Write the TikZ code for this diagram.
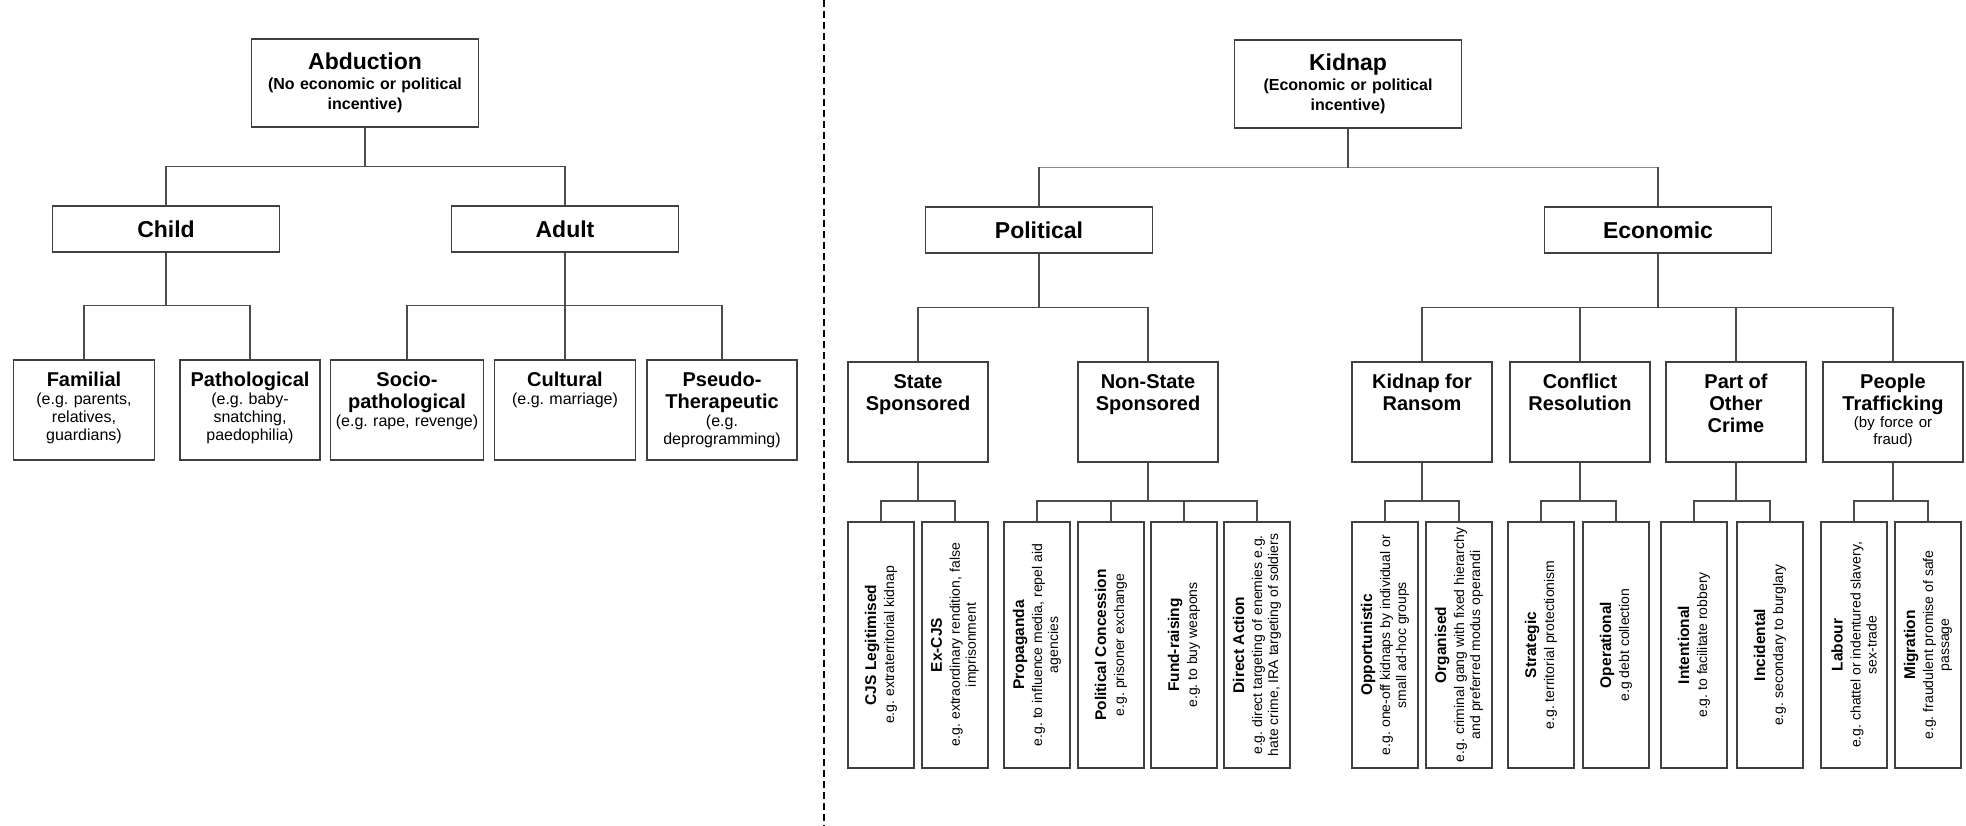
\documentclass[tikz,border=0pt]{standalone}
\usepackage{fontspec}
\setmainfont{Liberation Sans}
\newcommand{\cattitle}[1]{{\bfseries\fontsize{20}{22}\selectfont #1\par}}
\newcommand{\leaftitle}[1]{{\bfseries\fontsize{15.5}{16}\selectfont #1}}

\begin{document}
\frenchspacing
\begin{tikzpicture}[x=1pt,y=1pt,
    rootbox/.style={draw=black!75,line width=1.6pt,text width=223pt,align=center,minimum height=88pt,inner sep=2pt,font=\bfseries\fontsize{16}{20}\selectfont},
    midbox/.style={draw=black!75,line width=1.6pt,minimum width=227pt,minimum height=46pt,inner sep=0pt,font=\bfseries\fontsize{23}{26}\selectfont},
    catbox/.style={draw=black!75,line width=1.6pt,text width=#1,align=center,inner xsep=2pt,inner ysep=0pt,text height=27pt,text depth=73.5pt,font=\fontsize{16}{18}\selectfont},
    catbox/.default=136pt,
    leaf/.style={draw=black!75,line width=1.6pt,rotate=90,minimum width=246pt,minimum height=66pt,inner sep=1pt,align=center,font=\fontsize{14}{16}\selectfont},
    link/.style={draw=black!70,line width=1.3pt},
    toplink/.style={draw=black!45,line width=1.1pt},
    divider/.style={draw=black,line width=2pt,dash pattern=on 7pt off 4pt}]
    \useasboundingbox (0,0) rectangle (1966,-826);

    \node[rootbox] (abd) at (365,-83) {{\fontsize{23}{26}\selectfont Abduction\par}(No economic or political\\incentive)};
    \node[midbox] (child) at (166,-229) {Child};
    \node[midbox] (adult) at (565,-229) {Adult};
    \node[catbox=137pt] (fam) at (84,-410) {\cattitle{Familial}(e.g. parents,\\relatives,\\guardians)};
    \node[catbox=136pt] (patho) at (250,-410) {\cattitle{Pathological}(e.g. baby-\\snatching,\\paedophilia)};
    \node[catbox=149pt] (socio) at (407,-410) {\cattitle{Socio-\\pathological}(e.g. rape, revenge)};
    \node[catbox=137pt] (cult) at (565,-410) {\cattitle{Cultural}(e.g. marriage)};
    \node[catbox=146pt] (pseudo) at (722,-410) {\cattitle{Pseudo-\\Therapeutic}(e.g.\\deprogramming)};

    \coordinate (divtop) at (824,0);
    \coordinate (divbot) at (824,-826);
    \draw[divider] (divtop) -- (divbot);

    \node[rootbox] (kid) at (1348,-84) {{\fontsize{23}{26}\selectfont Kidnap\par}(Economic or political\\incentive)};
    \node[midbox] (pol) at (1039,-230) {Political};
    \node[midbox] (eco) at (1658,-230) {Economic};
    \node[catbox] (state) at (918,-412) {\cattitle{State\\Sponsored}};
    \node[catbox] (nstate) at (1148,-412) {\cattitle{Non-State\\Sponsored}};
    \node[catbox] (kfr) at (1422,-412) {\cattitle{Kidnap for\\Ransom}};
    \node[catbox] (confl) at (1580,-412) {\cattitle{Conflict\\Resolution}};
    \node[catbox] (part) at (1736,-412) {\cattitle{Part of\\Other\\Crime}};
    \node[catbox] (people) at (1893,-412) {\cattitle{People\\Trafficking}{\fontsize{15}{17}\selectfont (by force or\\fraud)\par}};

    \node[leaf] (cjs) at (881,-645) {\leaftitle{CJS Legitimised}\\[2pt]e.g. extraterritorial kidnap};
    \node[leaf] (excjs) at (955,-645) {\leaftitle{Ex-CJS}\\[2pt]e.g. extraordinary rendition, false\\imprisonment};
    \node[leaf] (prop) at (1037,-645) {\leaftitle{Propaganda}\\[2pt]e.g. to influence media, repel aid\\agencies};
    \node[leaf] (polc) at (1111,-645) {\leaftitle{Political Concession}\\[2pt]e.g. prisoner exchange};
    \node[leaf] (fund) at (1184,-645) {\leaftitle{Fund-raising}\\[2pt]e.g. to buy weapons};
    \node[leaf] (direct) at (1257,-645) {\leaftitle{Direct Action}\\[2pt]e.g. direct targeting of enemies e.g.\\hate crime, IRA targeting of soldiers};
    \node[leaf] (opp) at (1385,-645) {\leaftitle{Opportunistic}\\[2pt]e.g. one-off kidnaps by individual or\\small ad-hoc groups};
    \node[leaf] (org) at (1459,-645) {\leaftitle{Organised}\\[2pt]e.g. criminal gang with fixed hierarchy\\and preferred modus operandi};
    \node[leaf] (strat) at (1541,-645) {\leaftitle{Strategic}\\[2pt]e.g. territorial protectionism};
    \node[leaf] (oper) at (1616,-645) {\leaftitle{Operational}\\[2pt]e.g debt collection};
    \node[leaf] (intent) at (1694,-645) {\leaftitle{Intentional}\\[2pt]e.g. to facilitate robbery};
    \node[leaf] (incid) at (1770,-645) {\leaftitle{Incidental}\\[2pt]e.g. secondary to burglary};
    \node[leaf] (labour) at (1854,-645) {\leaftitle{Labour}\\[2pt]e.g. chattel or indentured slavery,\\sex-trade};
    \node[leaf] (migr) at (1928,-645) {\leaftitle{Migration}\\[2pt]e.g. fraudulent promise of safe\\passage};

    \draw[link] (abd.south) -- ++(0,-39) -| (child.north);
    \draw[link] (abd.south) -- ++(0,-39) -| (adult.north);
    \draw[link] (child.south) -- ++(0,-53) -| (fam.north);
    \draw[link] (child.south) -- ++(0,-53) -| (patho.north);
    \draw[link] (adult.south) -- ++(0,-53) -| (socio.north);
    \draw[link] (adult.south) -- (cult.north);
    \draw[link] (adult.south) -- ++(0,-53) -| (pseudo.north);

    \draw[toplink] (kid.south) -- ++(0,-39) -| (pol.north);
    \draw[toplink] (kid.south) -- ++(0,-39) -| (eco.north);
    \draw[link] (kid.south) -- ++(0,-39);
    \draw[link] (pol.north) -- ++(0,39);
    \draw[link] (eco.north) -- ++(0,39);
    \draw[link] (pol.south) -- ++(0,-54) -| (state.north);
    \draw[link] (pol.south) -- ++(0,-54) -| (nstate.north);
    \draw[link] (eco.south) -- ++(0,-54) -| (kfr.north);
    \draw[link] (eco.south) -- ++(0,-54) -| (confl.north);
    \draw[link] (eco.south) -- ++(0,-54) -| (part.north);
    \draw[link] (eco.south) -- ++(0,-54) -| (people.north);

    \draw[link] (state.south) -- ++(0,-38) -| (cjs.east);
    \draw[link] (state.south) -- ++(0,-38) -| (excjs.east);
    \draw[link] (nstate.south) -- ++(0,-38) -| (prop.east);
    \draw[link] (nstate.south) -- ++(0,-38) -| (polc.east);
    \draw[link] (nstate.south) -- ++(0,-38) -| (fund.east);
    \draw[link] (nstate.south) -- ++(0,-38) -| (direct.east);
    \draw[link] (kfr.south) -- ++(0,-38) -| (opp.east);
    \draw[link] (kfr.south) -- ++(0,-38) -| (org.east);
    \draw[link] (confl.south) -- ++(0,-38) -| (strat.east);
    \draw[link] (confl.south) -- ++(0,-38) -| (oper.east);
    \draw[link] (part.south) -- ++(0,-38) -| (intent.east);
    \draw[link] (part.south) -- ++(0,-38) -| (incid.east);
    \draw[link] (people.south) -- ++(0,-38) -| (labour.east);
    \draw[link] (people.south) -- ++(0,-38) -| (migr.east);
\end{tikzpicture}
\end{document}
